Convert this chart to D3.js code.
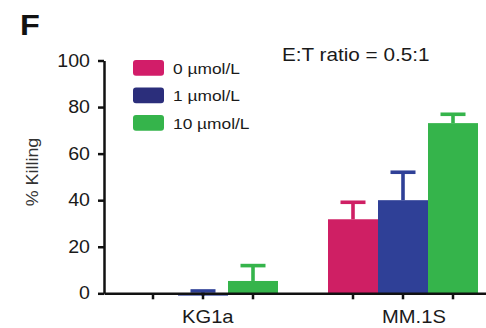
<!DOCTYPE html>
<html>
<head>
<meta charset="utf-8">
<script src="https://cdn.jsdelivr.net/npm/d3@7"></script>
<style>
  html, body { margin: 0; padding: 0; background: #fff; }
  svg { display: block; font-family: "Liberation Sans", Arial, Helvetica, sans-serif; }
</style>
</head>
<body>
<svg id="chart" width="486" height="328"></svg>
<script>
// Cell lines on the x axis
const categories = ["KG1a", "MM.1S"];
// Drug concentrations (one bar per concentration in each group)
const seriesNames = ["0 \u00b5mol/L", "1 \u00b5mol/L", "10 \u00b5mol/L"];
// Mean % killing per concentration, in category order
const killing0 = [0, 31.8];
const killing1 = [-1.0, 40.0];
const killing10 = [5.3, 73.1];
// Upper error (SEM) per concentration, in category order
const err0 = [0, 7.3];
const err1 = [2.0, 12.0];
const err10 = [6.6, 3.8];
// Y-axis ticks
const yTicks = [0, 20, 40, 60, 80, 100];

const barColors = ["#cf1f64", "#2f4097", "#35b44b"];
const legendColors = ["#d21d69", "#2b2e7b", "#35b44b"];

const means = [killing0, killing1, killing10];
const errs = [err0, err1, err10];
const rows = [];
categories.forEach((c, ci) => {
  seriesNames.forEach((s, si) => {
    rows.push({ cat: c, series: s, si, value: means[si][ci], err: errs[si][ci] });
  });
});

const svg = d3.select("#chart");
const WIDEN = 1.12; // horizontal glyph stretch used for all labels

const x0 = d3.scaleBand().domain(categories).range([104, 502])
  .paddingInner(0.25).paddingOuter(0.12);
const x1 = d3.scaleBand().domain(seriesNames).range([0, x0.bandwidth()]);
const y = d3.scaleLinear().domain([0, 100]).range([293.3, 60.5]);

// Bars
const g = svg.append("g");
g.selectAll("rect.bar")
  .data(rows.filter(d => d.value !== 0))
  .join("rect")
  .attr("class", "bar")
  .attr("x", d => x0(d.cat) + x1(d.series))
  .attr("width", x1.bandwidth())
  .attr("y", d => Math.min(y(d.value), y(0)))
  .attr("height", d => Math.abs(y(d.value) - y(0)))
  .attr("fill", d => barColors[d.si]);

// Upper error bars
const eb = g.selectAll("g.err")
  .data(rows.filter(d => d.err > 0))
  .join("g")
  .attr("class", "err")
  .attr("stroke", d => barColors[d.si])
  .attr("stroke-width", 3.6);
eb.append("line")
  .attr("x1", d => x0(d.cat) + x1(d.series) + x1.bandwidth() / 2)
  .attr("x2", d => x0(d.cat) + x1(d.series) + x1.bandwidth() / 2)
  .attr("y1", d => y(d.value))
  .attr("y2", d => y(d.value + d.err));
eb.append("line")
  .attr("x1", d => x0(d.cat) + x1(d.series) + x1.bandwidth() / 4)
  .attr("x2", d => x0(d.cat) + x1(d.series) + x1.bandwidth() * 3 / 4)
  .attr("y1", d => y(d.value + d.err))
  .attr("y2", d => y(d.value + d.err));

// Y axis
const yAxis = svg.append("g")
  .attr("transform", `translate(${x0.range()[0]},0)`)
  .call(d3.axisLeft(y).tickValues(yTicks).tickSize(6).tickSizeOuter(0));
yAxis.selectAll("path, line").attr("stroke", "#111").attr("stroke-width", 2.5);
yAxis.selectAll("text")
  .attr("x", 0)
  .attr("transform", `translate(-14,0) scale(${WIDEN},1)`)
  .attr("fill", "#1a1a1a")
  .style("font-size", "17.5px");

// X axis with a tick under every bar
const xAxis = svg.append("g")
  .attr("transform", `translate(0,${y(0)})`)
  .call(d3.axisBottom(x0).tickSize(0).tickSizeOuter(0));
xAxis.select("path.domain").attr("stroke", "#111").attr("stroke-width", 2.5);
xAxis.selectAll("text")
  .attr("text-anchor", "start")
  .attr("y", 0)
  .attr("dy", 0)
  .attr("transform", `translate(-21,29.7) scale(${WIDEN},1)`)
  .attr("fill", "#1a1a1a")
  .style("font-size", "18px");
xAxis.selectAll("line.bar-tick")
  .data(rows)
  .join("line")
  .attr("class", "bar-tick")
  .attr("x1", d => x0(d.cat) + x1(d.series) + x1.bandwidth() / 2)
  .attr("x2", d => x0(d.cat) + x1(d.series) + x1.bandwidth() / 2)
  .attr("y1", 0)
  .attr("y2", 6)
  .attr("stroke", "#111")
  .attr("stroke-width", 2.5);

// Y-axis title
svg.append("text")
  .attr("transform", `translate(38,172) rotate(-90) scale(${WIDEN},1)`)
  .attr("text-anchor", "middle")
  .attr("fill", "#333")
  .style("font-size", "16px")
  .text("% Killing");

// Panel letter
svg.append("text")
  .attr("transform", `translate(20,35) scale(1.08,1)`)
  .attr("fill", "#111")
  .style("font-size", "30px")
  .style("font-weight", "bold")
  .text("F");

// Effector:target annotation
svg.append("text")
  .attr("transform", `translate(282,60.5) scale(${WIDEN},1)`)
  .attr("fill", "#1a1a1a")
  .style("font-size", "18.5px")
  .text("E:T ratio = 0.5:1");

// Legend
const legend = svg.append("g").attr("transform", "translate(133,60)");
const li = legend.selectAll("g")
  .data(seriesNames)
  .join("g")
  .attr("transform", (d, i) => `translate(0,${i * 27.5})`);
li.append("rect")
  .attr("width", 31)
  .attr("height", 15.7)
  .attr("rx", 3)
  .attr("fill", (d, i) => legendColors[i]);
li.append("text")
  .attr("transform", `translate(40,13.5) scale(${WIDEN},1)`)
  .attr("fill", "#1a1a1a")
  .style("font-size", "15.5px")
  .text(d => d);
</script>
</body>
</html>
